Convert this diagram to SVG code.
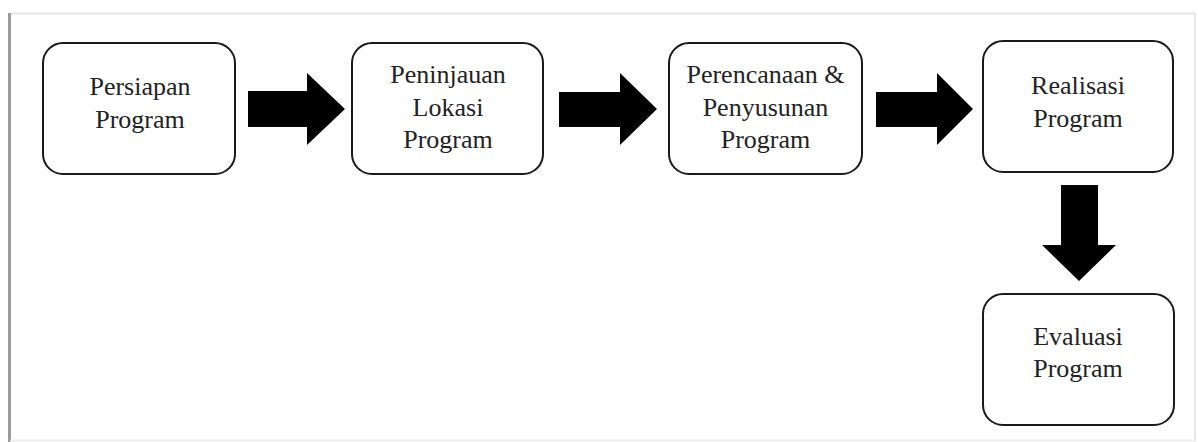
<svg xmlns="http://www.w3.org/2000/svg" width="1198" height="442" viewBox="0 0 1198 442">
  <defs>
    <style>
      .box { fill: #ffffff; stroke: #1a1a1a; stroke-width: 2; }
      .lbl { font-family: "Liberation Serif", "Times New Roman", serif; font-size: 26px; fill: #222222; text-anchor: middle; }
      .arrow { fill: #000000; }
    </style>
  </defs>
  <rect x="0" y="0" width="1198" height="442" fill="#ffffff"/>
  <g id="frame">
    <line x1="10" y1="13.5" x2="1196" y2="13.5" stroke="#e6e6e6" stroke-width="2"/>
    <line x1="1195" y1="13" x2="1195" y2="442" stroke="#e8e8e8" stroke-width="2"/>
    <line x1="9.5" y1="13" x2="9.5" y2="442" stroke="#9a9a9a" stroke-width="3"/>
    <line x1="10" y1="440.5" x2="1196" y2="440.5" stroke="#eeeeee" stroke-width="2"/>
  </g>
  <g id="connectors">
    <polygon class="arrow" points="248,91 307,91 307,73 345,109 307,145 307,127 248,127"/>
    <polygon class="arrow" points="559,92 620,92 620,73 657,109 620,145 620,127 559,127"/>
    <polygon class="arrow" points="876,92 937,92 937,73 973,109 937,145 937,127 876,127"/>
    <polygon class="arrow" points="1061,185 1098,185 1098,245 1116,245 1079,281 1042,245 1061,245"/>
  </g>
  <g id="persiapan">
    <rect class="box" x="43" y="43" width="192" height="131" rx="20"/>
    <text class="lbl" x="140" y="95">Persiapan</text>
    <text class="lbl" x="140" y="128">Program</text>
  </g>
  <g id="peninjauan">
    <rect class="box" x="352" y="43" width="191" height="131" rx="20"/>
    <text class="lbl" x="448" y="83">Peninjauan</text>
    <text class="lbl" x="448" y="116">Lokasi</text>
    <text class="lbl" x="448" y="148">Program</text>
  </g>
  <g id="perencanaan">
    <rect class="box" x="669" y="43" width="193" height="131" rx="20"/>
    <text class="lbl" x="765.5" y="83">Perencanaan &amp;</text>
    <text class="lbl" x="765.5" y="116">Penyusunan</text>
    <text class="lbl" x="765.5" y="148">Program</text>
  </g>
  <g id="realisasi">
    <rect class="box" x="983" y="41" width="190" height="131" rx="20"/>
    <text class="lbl" x="1078" y="94">Realisasi</text>
    <text class="lbl" x="1078" y="127">Program</text>
  </g>
  <g id="evaluasi">
    <rect class="box" x="983" y="294" width="191" height="131" rx="20"/>
    <text class="lbl" x="1078" y="345">Evaluasi</text>
    <text class="lbl" x="1078" y="377">Program</text>
  </g>
</svg>
